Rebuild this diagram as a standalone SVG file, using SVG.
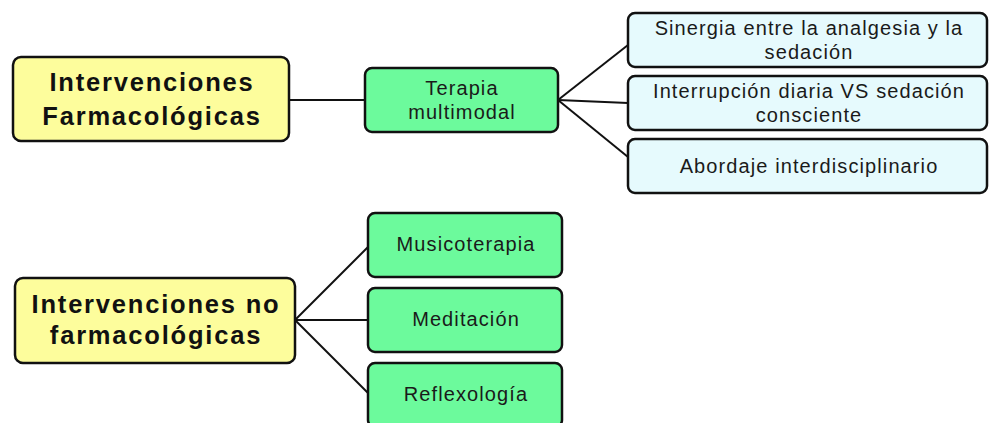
<svg xmlns="http://www.w3.org/2000/svg" width="990" height="423" viewBox="0 0 990 423">
  <style>
    .box { stroke: #111; stroke-width: 2.5; }
    .main { fill: #fdfd9c; }
    .sub { fill: #6cfa9c; }
    .leaf { fill: #e6fafd; }
    .edge { stroke: #111; stroke-width: 2; fill: none; }
    .t-main { font-family: "Liberation Sans", Arial, sans-serif; font-weight: bold; font-size: 25.5px; letter-spacing: 1.8px; fill: #111; text-anchor: middle; }
    .t { font-family: "Liberation Sans", Arial, sans-serif; font-size: 20px; letter-spacing: 1.1px; fill: #1a1a1a; text-anchor: middle; }
  </style>
  <rect width="990" height="423" fill="#ffffff"/>

  <g id="connectors">
    <line class="edge" x1="289" y1="100" x2="365" y2="100"/>
    <line class="edge" x1="558" y1="100" x2="628" y2="45"/>
    <line class="edge" x1="558" y1="100" x2="628" y2="103"/>
    <line class="edge" x1="558" y1="100" x2="628" y2="157"/>
    <line class="edge" x1="295" y1="320" x2="368" y2="247"/>
    <line class="edge" x1="295" y1="320" x2="368" y2="320"/>
    <line class="edge" x1="295" y1="320" x2="368" y2="393"/>
  </g>

  <g id="farmacologicas">
    <rect class="box main" x="13" y="57" width="276" height="84" rx="8"/>
    <text class="t-main" x="152" y="91">Intervenciones</text>
    <text class="t-main" x="152" y="125">Farmacológicas</text>
  </g>

  <g id="terapia">
    <rect class="box sub" x="365" y="68" width="193" height="64" rx="7"/>
    <text class="t" x="462" y="95">Terapia</text>
    <text class="t" x="462" y="119">multimodal</text>
  </g>

  <g id="sinergia">
    <rect class="box leaf" x="628" y="13" width="359" height="54" rx="7"/>
    <text class="t" x="809" y="35">Sinergia entre la analgesia y la</text>
    <text class="t" x="809" y="59">sedación</text>
  </g>

  <g id="interrupcion">
    <rect class="box leaf" x="628" y="76" width="359" height="54" rx="7"/>
    <text class="t" x="809" y="98">Interrupción diaria VS sedación</text>
    <text class="t" x="809" y="122">consciente</text>
  </g>

  <g id="abordaje">
    <rect class="box leaf" x="628" y="139" width="359" height="54" rx="7"/>
    <text class="t" x="809" y="173">Abordaje interdisciplinario</text>
  </g>

  <g id="no-farmacologicas">
    <rect class="box main" x="15" y="278" width="280" height="85" rx="8"/>
    <text class="t-main" x="156" y="313">Intervenciones no</text>
    <text class="t-main" x="156" y="344">farmacológicas</text>
  </g>

  <g id="musicoterapia">
    <rect class="box sub" x="368" y="213" width="194" height="64" rx="7"/>
    <text class="t" x="466" y="251">Musicoterapia</text>
  </g>

  <g id="meditacion">
    <rect class="box sub" x="368" y="288" width="194" height="64" rx="7"/>
    <text class="t" x="466" y="326">Meditación</text>
  </g>

  <g id="reflexologia">
    <rect class="box sub" x="368" y="363" width="194" height="64" rx="7"/>
    <text class="t" x="466" y="401">Reflexología</text>
  </g>
</svg>
